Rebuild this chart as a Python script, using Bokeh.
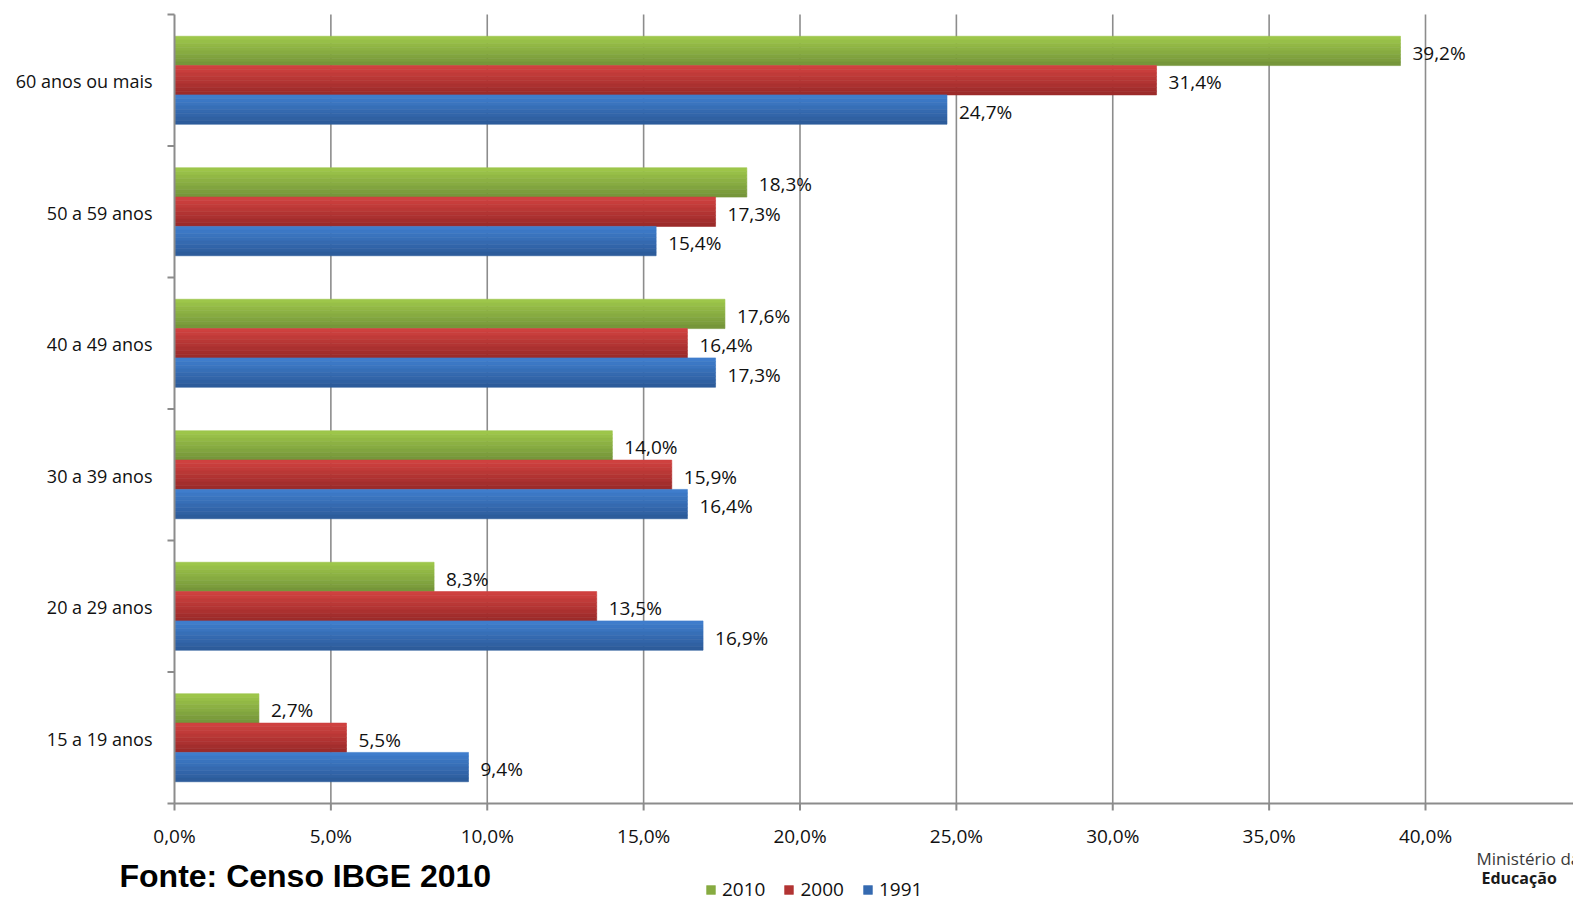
from bokeh.plotting import figure
from bokeh.models import ColumnDataSource, Legend, LegendItem, Label, Range1d
from bokeh.transform import dodge
from bokeh.embed import file_html
from bokeh.resources import INLINE
from bokeh.core.properties import value

categories = ["15 a 19 anos", "20 a 29 anos", "30 a 39 anos",
              "40 a 49 anos", "50 a 59 anos", "60 anos ou mais"]
series_names = ["2010", "2000", "1991"]
v2010 = [2.7, 8.3, 14.0, 17.6, 18.3, 39.2]
v2000 = [5.5, 13.5, 15.9, 16.4, 17.3, 31.4]
v1991 = [9.4, 16.9, 16.4, 17.3, 15.4, 24.7]
x_ticks = [0, 5, 10, 15, 20, 25, 30, 35, 40]
x_tick_labels = ["0,0%", "5,0%", "10,0%", "15,0%", "20,0%", "25,0%", "30,0%", "35,0%", "40,0%"]

FONT = "Open Sans"
GRID = "#8c8c8c"
TXT = "#111111"

# layout (pixels)
W, H = 1573, 900
LEFT, TOP, BOTTOM = 174, 14, 97
XK = 31.275          # pixels per percent
YK = (H - TOP - BOTTOM) / len(categories)   # pixels per category
n = len(categories)
y_lo, y_hi = -0.5, n - 0.5

p = figure(width=W, height=H,
           x_range=Range1d(-LEFT / XK, (W - LEFT) / XK),
           y_range=Range1d(y_lo - BOTTOM / YK, y_hi + TOP / YK),
           x_axis_location=None, y_axis_location=None,
           output_backend="svg", toolbar_location=None, min_border=0)
p.outline_line_color = None
p.background_fill_color = "white"
p.border_fill_color = "white"
p.grid.visible = False

# vertical grid lines
gsrc = ColumnDataSource(dict(x=x_ticks[1:]))
p.segment(x0="x", x1="x", y0=y_lo, y1=y_hi, source=gsrc, line_color=GRID, line_width=1.6)

ypos = list(range(n))
bar_h = 0.223
offsets = [bar_h, 0.0, -bar_h]
grads = [("#9dc64a", "#76963a"), ("#cf413f", "#9c2b2a"), ("#3f7dcc", "#2d5c9b")]
N = 8


def interp(c1, c2, t):
    a = [int(c1[i:i + 2], 16) for i in (1, 3, 5)]
    b = [int(c2[i:i + 2], 16) for i in (1, 3, 5)]
    return "#%02x%02x%02x" % tuple(round(a[j] + (b[j] - a[j]) * t) for j in range(3))


legend_items = []
for name, vals, off, (ctop, cbot) in zip(series_names, [v2010, v2000, v1991], offsets, grads):
    src = ColumnDataSource(dict(y=ypos, v=vals,
                                label=[f"{v:.1f}".replace(".", ",") + "%" for v in vals]))
    mid = None
    for k in range(N):
        t = k / (N - 1)
        col = interp(ctop, cbot, t)
        so = off + bar_h / 2 - (k + 0.5) * bar_h / N
        r = p.hbar(y=dodge("y", so, range=p.y_range), left=0, right="v", height=bar_h / N,
                   source=src, fill_color=col, line_color=col, line_width=0.6)
        if k == N // 2:
            mid = r
    legend_items.append(LegendItem(label=name, renderers=[mid]))
    p.text(x="v", y=dodge("y", off, range=p.y_range), text="label", source=src,
           x_offset=12, y_offset=2, text_baseline="alphabetic", text_align="left",
           text_font=value(FONT), text_font_size="19px", text_color=TXT)

# axis lines and ticks
bnd = [i - 0.5 for i in range(n + 1)]
p.segment(x0=0, x1=0, y0=y_lo, y1=y_hi, line_color=GRID, line_width=2)
p.segment(x0=0, x1=(W - LEFT) / XK, y0=y_lo, y1=y_lo, line_color=GRID, line_width=2)
p.segment(x0=-7 / XK, x1=0, y0=bnd, y1=bnd, line_color=GRID, line_width=2)
p.segment(x0=x_ticks, x1=x_ticks, y0=y_lo, y1=y_lo - 7 / YK, line_color=GRID, line_width=2)

# tick labels
p.text(x=x_ticks, y=[y_lo] * len(x_ticks), text=x_tick_labels, y_offset=32,
       text_align="center", text_baseline="alphabetic",
       text_font=value(FONT), text_font_size="19px", text_color=TXT)
p.text(x=[0] * n, y=ypos, text=categories, x_offset=-22, y_offset=1,
       text_align="right", text_baseline="alphabetic",
       text_font=value(FONT), text_font_size="18px", text_color=TXT)

legend = Legend(items=legend_items, orientation="horizontal", location=(705, -2),
                glyph_width=11, glyph_height=11, label_text_font=FONT,
                label_text_font_size="19px", label_text_color=TXT,
                border_line_color=None, background_fill_alpha=0,
                padding=0, margin=0, spacing=18, label_standoff=6)
p.add_layout(legend)

p.add_layout(Label(x=119, y=25, x_units="screen", y_units="screen",
                   text="Fonte: Censo IBGE 2010", text_font="Liberation Sans",
                   text_baseline="alphabetic",
                   text_font_style="bold", text_font_size="32px", text_color="#000000"))
p.add_layout(Label(x=1476, y=42, x_units="screen", y_units="screen",
                   text="Ministério da", text_font=FONT, text_baseline="alphabetic",
                   text_font_size="17px", text_color="#3a3a3a"))
p.add_layout(Label(x=1481, y=23, x_units="screen", y_units="screen",
                   text="Educação", text_font=FONT, text_font_style="bold",
                   text_baseline="alphabetic",
                   text_font_size="16px", text_color="#1a1a1a"))

open("out.html", "w").write(file_html(p, INLINE))
